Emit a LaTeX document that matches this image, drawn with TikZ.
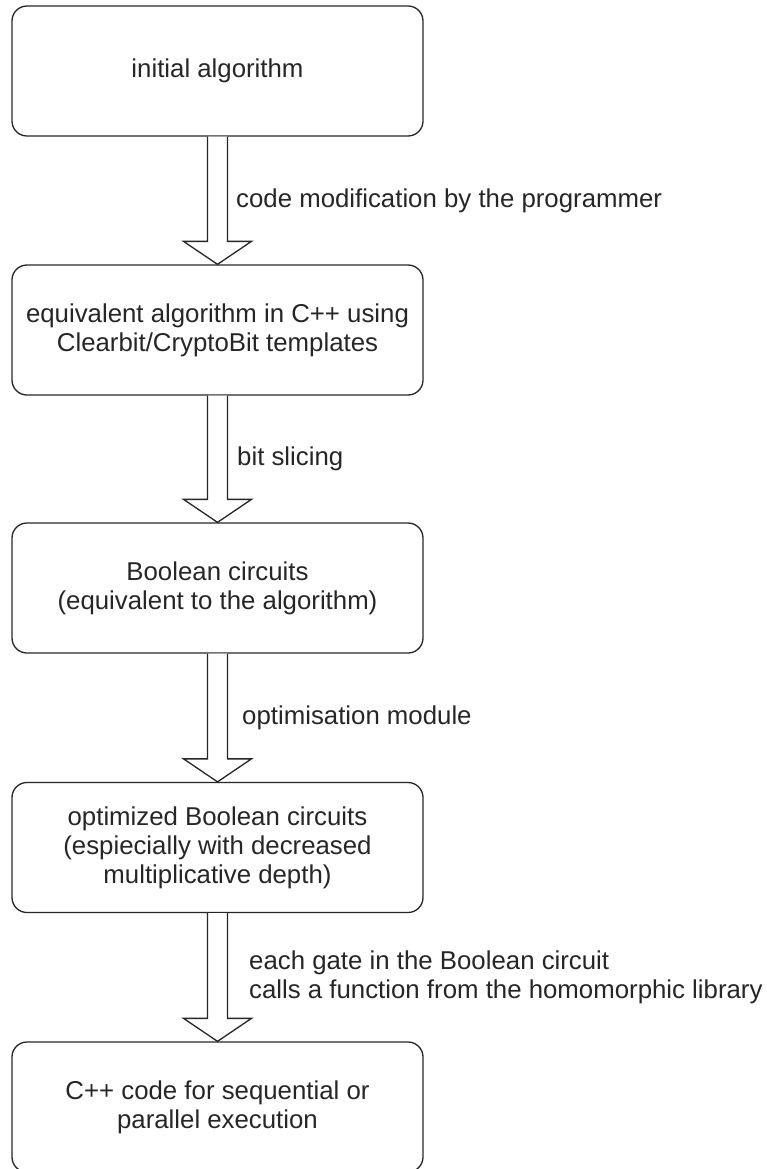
\documentclass[tikz,border=0pt]{standalone}
\usepackage{fontspec}
\setmainfont{Liberation Sans}
\usetikzlibrary{calc}
\tikzset{
  box/.style={draw=black!85, line width=1.3pt, rounded corners=15pt, minimum width=411pt, minimum height=130pt, align=center, inner sep=0pt, font=\fontsize{25.8}{29}\selectfont, text=black!85},
  lbl/.style={anchor=west, align=left, inner sep=0pt, font=\fontsize{25.8}{29}\selectfont, text=black!85},
  fat/.style={draw=black!85, line width=1.3pt, fill=white, line join=miter},
}
\newcommand{\fatarrow}[2]{%
  \draw[fat] ([xshift=-10pt]#1.south) -- ([xshift=-10pt,yshift=23pt]#2.north) -- ([xshift=-34pt,yshift=23pt]#2.north) -- (#2.north) -- ([xshift=34pt,yshift=23pt]#2.north) -- ([xshift=10pt,yshift=23pt]#2.north) -- ([xshift=10pt]#1.south);}
\begin{document}
\begin{tikzpicture}[x=1pt,y=-1pt]
\useasboundingbox (0,0) rectangle (767,1169);
\node[box] (b1) at (217.5,71) {initial algorithm};
\node[box] (b2) at (217.5,330) {equivalent algorithm in C++ using\\Clearbit/CryptoBit templates};
\node[box] (b3) at (217.5,588) {Boolean circuits\\(equivalent to the algorithm)};
\node[box] (b4) at (217.5,847.5) {optimized Boolean circuits\\(espiecially with decreased\\multiplicative depth)};
\node[box] (b5) at (217.5,1107) {C++ code for sequential or\\parallel execution};
\fatarrow{b1}{b2}
\fatarrow{b2}{b3}
\fatarrow{b3}{b4}
\fatarrow{b4}{b5}
\node[lbl] (l1) at (236,201) {code modification by the programmer};
\node[lbl] (l2) at (237,459) {bit slicing};
\node[lbl] (l3) at (242,718) {optimisation module};
\node[lbl] (l4) at (249,977) {each gate in the Boolean circuit\\calls a function from the homomorphic library};
\end{tikzpicture}
\end{document}
